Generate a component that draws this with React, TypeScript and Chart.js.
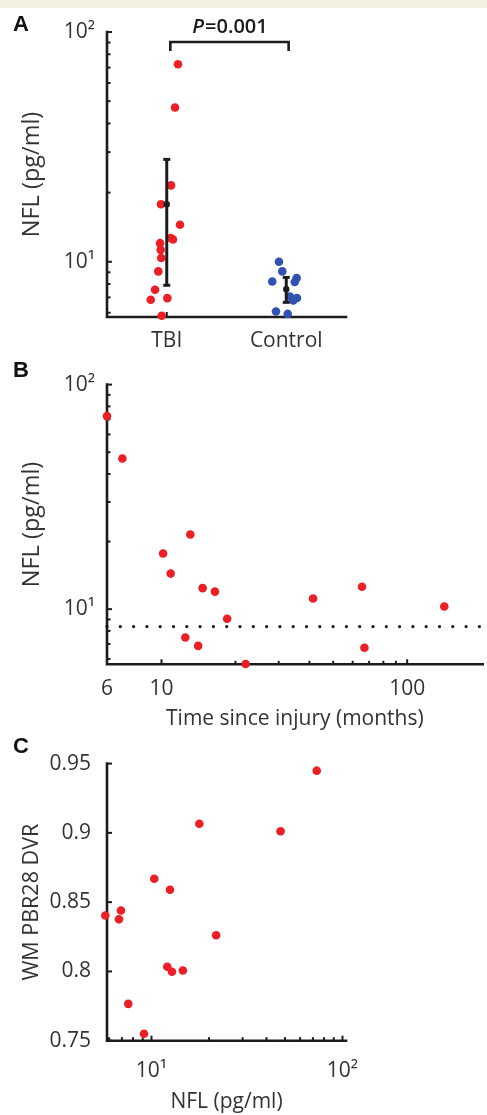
import React, { useEffect, useRef } from 'react';
import { Chart, registerables } from 'chart.js';

Chart.register(...registerables);

const FONT = '"Open Sans", "DejaVu Sans", sans-serif';
const TEXT = '#333333';
const AXIS = '#1c1c1c';
const RED = '#ec1f26';
const BLUE = '#3152b0';

// ---------- Panel A: NFL by group ----------
const groupLabels = ['TBI', 'Control'];
const groupPositions = [1, 2];
const tbiNfl = [72.4, 46.9, 21.5, 17.8, 14.5, 12.7, 12.5, 12.05, 11.27, 10.38, 9.08, 7.55, 6.84, 6.95, 5.82];
const tbiJitter = [1.094, 1.069, 1.036, 0.952, 1.111, 1.033, 1.052, 0.944, 0.949, 0.954, 0.929, 0.902, 0.866, 1.005, 0.958];
const controlNfl = [10.0, 9.08, 8.21, 8.49, 8.17, 7.06, 6.79, 6.96, 6.08, 5.93];
const controlJitter = [1.939, 1.967, 1.883, 2.087, 2.071, 2.031, 2.059, 2.09, 1.914, 2.012];
const groupMean = [17.8, 7.6];
const groupLow = [7.9, 6.66];
const groupHigh = [27.9, 8.55];
const bracketX = [1.03, 2.02];
const bracketY = [82.6, 90.5];
const pLetter = 'P';
const pValueText = '=0.001';
const nflTickValues = [10, 100];
const nflTickLabels = ['10\u00b9', '10\u00b2'];
const nflMajorTicks = [10, 100];
const nflMinorTicks = [6, 7, 8, 9, 20, 30, 40, 50, 60, 70, 80, 90];

// ---------- Panel B: NFL vs time since injury ----------
const monthsSinceInjury = [6.0, 6.93, 13.1, 10.15, 10.9, 14.7, 16.5, 65.5, 41.4, 141.6, 18.5, 12.5, 14.1, 67.0, 22.0];
const nflByTime = [72.4, 46.9, 21.5, 17.7, 14.4, 12.4, 11.97, 12.58, 11.15, 10.28, 9.06, 7.48, 6.86, 6.73, 5.7];
const controlThreshold = 8.36;
const monthTickValues = [6, 10, 100];
const monthTickLabels = ['6', '10', '100'];
const monthMajorTicks = [10, 100];
const monthMinorTicks = [20, 30, 40, 50, 60, 70, 80, 90];

// ---------- Panel C: WM PBR28 DVR vs NFL ----------
const nflPet = [73.3, 47.4, 17.8, 10.34, 12.5, 6.92, 5.73, 6.76, 21.8, 12.1, 12.8, 14.6, 7.56, 9.14];
const wmDvr = [0.9449, 0.9012, 0.9066, 0.8669, 0.859, 0.844, 0.8404, 0.8376, 0.8261, 0.8034, 0.7998, 0.8007, 0.7766, 0.755];
const dvrTickValues = [0.75, 0.8, 0.85, 0.9, 0.95];
const dvrTickLabels = ['0.75', '0.8', '0.85', '0.9', '0.95'];
const nflPetTickValues = [10, 100];
const nflPetTickLabels = ['10\u00b9', '10\u00b2'];
const nflPetMajorTicks = [10, 100];
const nflPetMinorTicks = [6, 7, 8, 9, 20, 30, 40, 50, 60, 70, 80, 90];

const axisDecor = {
  id: 'axisDecor',
  beforeDatasetsDraw(chart: any, _args: any, opts: any) {
    const { ctx, chartArea: a, scales } = chart;
    ctx.save();
    ctx.strokeStyle = AXIS;
    ctx.lineWidth = 2.6;
    ctx.lineCap = 'square';
    ctx.beginPath();
    ctx.moveTo(a.left, a.top);
    ctx.lineTo(a.left, a.bottom);
    ctx.lineTo(a.right, a.bottom);
    ctx.stroke();
    ctx.lineCap = 'butt';
    ctx.lineWidth = 2;
    const drawY = (vals: number[], len: number) => {
      for (const v of vals || []) {
        const y = scales.y.getPixelForValue(v);
        ctx.beginPath();
        ctx.moveTo(a.left, y);
        ctx.lineTo(a.left + len, y);
        ctx.stroke();
      }
    };
    const drawX = (vals: number[], len: number) => {
      for (const v of vals || []) {
        const x = scales.x.getPixelForValue(v);
        ctx.beginPath();
        ctx.moveTo(x, a.bottom);
        ctx.lineTo(x, a.bottom - len);
        ctx.stroke();
      }
    };
    drawY(opts.yMajor, 5);
    drawY(opts.yMinor, 3.5);
    drawX(opts.xMajor, 5);
    drawX(opts.xMinor, 3.5);
    ctx.restore();
  },
  afterDatasetsDraw(chart: any, _args: any, opts: any) {
    if (!opts.pText) return;
    const { ctx, scales } = chart;
    const cx = (scales.x.getPixelForValue(bracketX[0]) + scales.x.getPixelForValue(bracketX[1])) / 2;
    ctx.save();
    ctx.fillStyle = '#1a1a1a';
    ctx.textBaseline = 'alphabetic';
    ctx.textAlign = 'left';
    const fItalic = `italic 600 20px ${FONT}`;
    const fNormal = `600 20px ${FONT}`;
    ctx.font = fItalic;
    const w1 = ctx.measureText(pLetter).width;
    ctx.font = fNormal;
    const w2 = ctx.measureText(pValueText).width;
    const x0 = cx - (w1 + w2) / 2;
    ctx.font = fItalic;
    ctx.fillText(pLetter, x0, 33);
    ctx.font = fNormal;
    ctx.fillText(pValueText, x0 + w1 + 1, 33);
    ctx.restore();
  },
};

const tickFont = { family: FONT, size: 21 };
const xTitleFont = { family: FONT, size: 21 };
const nflTitleFont = { family: FONT, size: 23.5 };
const dvrTitleFont = { family: FONT, size: 21.5 };

function errorBar(i: number) {
  return {
    type: 'line' as const,
    data: [
      { x: groupPositions[i], y: groupLow[i] },
      { x: groupPositions[i], y: groupMean[i] },
      { x: groupPositions[i], y: groupHigh[i] },
    ],
    showLine: true,
    borderColor: AXIS,
    borderWidth: 3,
    pointStyle: ['line', 'circle', 'line'],
    pointRadius: [3.5, 3.2, 3.5],
    pointBorderWidth: [3, 0, 3],
    pointBorderColor: AXIS,
    pointBackgroundColor: AXIS,
    clip: false as any,
  };
}

function yTitle(text: string, font: any) {
  // centre of the rotated title at x ≈ 32
  return { display: true, text, font, color: TEXT, padding: { top: 32 - font.size * 0.6, bottom: 0 } };
}

function configA(): any {
  return {
    type: 'scatter',
    data: {
      datasets: [
        errorBar(0),
        errorBar(1),
        {
          type: 'line',
          data: [
            { x: bracketX[0], y: bracketY[0] },
            { x: bracketX[0], y: bracketY[1] },
            { x: bracketX[1], y: bracketY[1] },
            { x: bracketX[1], y: bracketY[0] },
          ],
          showLine: true,
          borderColor: AXIS,
          borderWidth: 2.6,
          pointRadius: 0,
          clip: false,
        },
        {
          data: tbiNfl.map((v, i) => ({ x: tbiJitter[i], y: v })),
          backgroundColor: RED,
          pointRadius: 4.3,
          pointBorderWidth: 0,
          clip: false,
        },
        {
          data: controlNfl.map((v, i) => ({ x: controlJitter[i], y: v })),
          backgroundColor: BLUE,
          pointRadius: 4.3,
          pointBorderWidth: 0,
          clip: false,
        },
      ],
    },
    options: {
      responsive: false,
      animation: false,
      devicePixelRatio: 1,
      events: [],
      layout: { padding: { top: 32, right: 141, left: 0, bottom: 0 } },
      plugins: {
        legend: { display: false },
        tooltip: { enabled: false },
        axisDecor: { yMajor: nflMajorTicks, yMinor: nflMinorTicks, xMajor: groupPositions, pText: true },
      },
      scales: {
        x: {
          type: 'linear',
          min: 0.5,
          max: 2.5,
          bounds: 'data',
          afterBuildTicks: (s: any) => { s.ticks = groupPositions.map((v) => ({ value: v })); },
          afterFit: (s: any) => { s.height = 43; },
          grid: { display: false, drawTicks: false },
          border: { display: false },
          ticks: { callback: (_v: any, i: number) => groupLabels[i], padding: 11.5, font: tickFont, color: TEXT, maxRotation: 0, autoSkip: false },
        },
        y: {
          type: 'logarithmic',
          min: 5.75,
          max: 100,
          bounds: 'data',
          afterBuildTicks: (s: any) => { s.ticks = nflTickValues.map((v) => ({ value: v })); },
          afterFit: (s: any) => { s.width = 107; },
          grid: { display: false, drawTicks: false },
          border: { display: false },
          ticks: { callback: (_v: any, i: number) => nflTickLabels[i], padding: 12, font: tickFont, color: TEXT, autoSkip: false },
          title: yTitle('NFL (pg/ml)', nflTitleFont),
        },
      },
    },
    plugins: [axisDecor],
  };
}

function configB(): any {
  return {
    type: 'scatter',
    data: {
      datasets: [
        {
          data: monthsSinceInjury.map((m, i) => ({ x: m, y: nflByTime[i] })),
          backgroundColor: RED,
          pointRadius: 4.3,
          pointBorderWidth: 0,
          clip: false,
        },
        {
          type: 'line',
          data: [
            { x: 6, y: controlThreshold },
            { x: 203, y: controlThreshold },
          ],
          showLine: true,
          borderColor: '#111111',
          borderWidth: 3.2,
          borderDash: [0, 13.3],
          borderCapStyle: 'round',
          pointRadius: 0,
          clip: false,
        },
      ],
    },
    options: {
      responsive: false,
      animation: false,
      devicePixelRatio: 1,
      events: [],
      layout: { padding: { top: 20, right: 0, left: 0, bottom: 0 } },
      plugins: {
        legend: { display: false },
        tooltip: { enabled: false },
        axisDecor: { yMajor: nflMajorTicks, yMinor: nflMinorTicks, xMajor: monthMajorTicks, xMinor: monthMinorTicks },
      },
      scales: {
        x: {
          type: 'logarithmic',
          min: 6,
          max: 203,
          bounds: 'data',
          afterBuildTicks: (s: any) => { s.ticks = monthTickValues.map((v) => ({ value: v })); },
          afterFit: (s: any) => { s.height = 70.7; },
          grid: { display: false, drawTicks: false },
          border: { display: false },
          ticks: { callback: (_v: any, i: number) => monthTickLabels[i], padding: 12, font: tickFont, color: TEXT, maxRotation: 0, autoSkip: false },
          title: { display: true, text: 'Time since injury (months)', font: xTitleFont, color: TEXT, padding: { top: 0, bottom: 3.5 } },
        },
        y: {
          type: 'logarithmic',
          min: 5.68,
          max: 100,
          bounds: 'data',
          afterBuildTicks: (s: any) => { s.ticks = nflTickValues.map((v) => ({ value: v })); },
          afterFit: (s: any) => { s.width = 107; },
          grid: { display: false, drawTicks: false },
          border: { display: false },
          ticks: { callback: (_v: any, i: number) => nflTickLabels[i], padding: 12, font: tickFont, color: TEXT, autoSkip: false },
          title: yTitle('NFL (pg/ml)', nflTitleFont),
        },
      },
    },
    plugins: [axisDecor],
  };
}

function configC(): any {
  return {
    type: 'scatter',
    data: {
      datasets: [
        {
          data: nflPet.map((v, i) => ({ x: v, y: wmDvr[i] })),
          backgroundColor: RED,
          pointRadius: 4.3,
          pointBorderWidth: 0,
          clip: false,
        },
      ],
    },
    options: {
      responsive: false,
      animation: false,
      devicePixelRatio: 1,
      events: [],
      layout: { padding: { top: 21.7, right: 141, left: 0, bottom: 0 } },
      plugins: {
        legend: { display: false },
        tooltip: { enabled: false },
        axisDecor: { yMajor: dvrTickValues, xMajor: nflPetMajorTicks, xMinor: nflPetMinorTicks },
      },
      scales: {
        x: {
          type: 'logarithmic',
          min: 5.85,
          max: 104.3,
          bounds: 'data',
          afterBuildTicks: (s: any) => { s.ticks = nflPetTickValues.map((v) => ({ value: v })); },
          afterFit: (s: any) => { s.height = 74.3; },
          grid: { display: false, drawTicks: false },
          border: { display: false },
          ticks: { callback: (_v: any, i: number) => nflPetTickLabels[i], padding: 18, font: tickFont, color: TEXT, maxRotation: 0, autoSkip: false },
          title: { display: true, text: 'NFL (pg/ml)', font: xTitleFont, color: TEXT, padding: { top: 0, bottom: 0 } },
        },
        y: {
          type: 'linear',
          min: 0.75,
          max: 0.95,
          bounds: 'data',
          afterBuildTicks: (s: any) => { s.ticks = dvrTickValues.map((v) => ({ value: v })); },
          afterFit: (s: any) => { s.width = 107; },
          grid: { display: false, drawTicks: false },
          border: { display: false },
          ticks: { callback: (_v: any, i: number) => dvrTickLabels[i], padding: 16, font: tickFont, color: TEXT, autoSkip: false },
          title: yTitle('WM PBR28 DVR', dvrTitleFont),
        },
      },
    },
    plugins: [axisDecor],
  };
}

function ChartPanel({ top, height, make }: { top: number; height: number; make: () => any }) {
  const ref = useRef<HTMLCanvasElement>(null);
  useEffect(() => {
    const chart = new Chart(ref.current as HTMLCanvasElement, make());
    return () => chart.destroy();
  }, []);
  return (
    <canvas
      ref={ref}
      width={487}
      height={height}
      style={{ position: 'absolute', left: 0, top, width: 487, height, display: 'block' }}
    />
  );
}

const letterStyle: React.CSSProperties = {
  position: 'absolute',
  left: 13,
  font: 'bold 22px "Liberation Sans", Arial, sans-serif',
  lineHeight: '22px',
  color: '#111',
};

export default function App() {
  return (
    <div style={{ position: 'absolute', left: 0, top: 0, width: 487, height: 1115, background: '#ffffff', overflow: 'hidden' }}>
      <div style={{ position: 'absolute', left: 0, top: 0, width: 487, height: 8, background: '#f4f0e2' }} />
      <ChartPanel top={0} height={360} make={configA} />
      <ChartPanel top={360} height={375} make={configB} />
      <ChartPanel top={735} height={380} make={configC} />
      <div style={{ ...letterStyle, top: 13.4 }}>A</div>
      <div style={{ ...letterStyle, top: 359.4 }}>B</div>
      <div style={{ ...letterStyle, top: 735.4 }}>C</div>
    </div>
  );
}
